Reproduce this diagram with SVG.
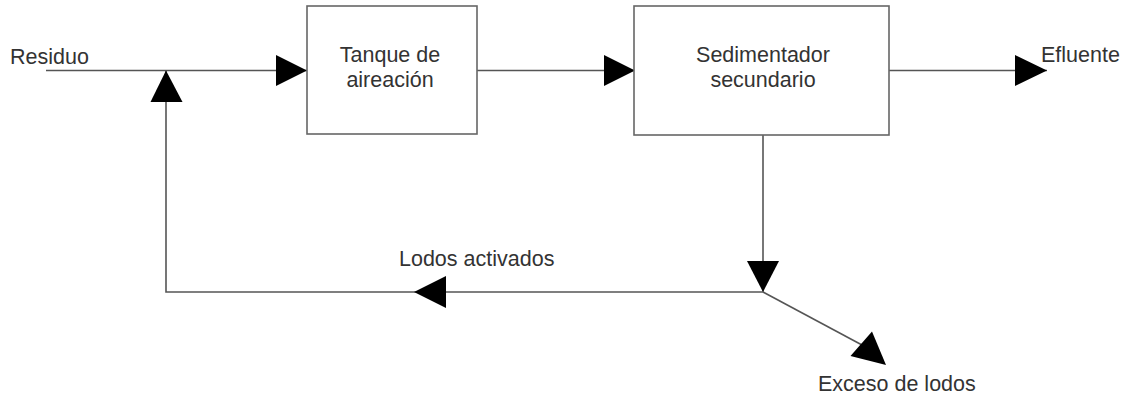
<svg xmlns="http://www.w3.org/2000/svg" width="1131" height="398" viewBox="0 0 1131 398">
<style>
text{font-family:"Liberation Sans",Arial,sans-serif;font-size:21.5px;fill:#333}
.box{fill:#fff;stroke:#666;stroke-width:1.6}
.ln{fill:none;stroke:#555;stroke-width:1.6}
.ah{fill:#000;stroke:none}
</style>
<rect width="1131" height="398" fill="#fff"/>
<g id="connectors">
<path class="ln" d="M46 70.5 H307"/>
<polygon class="ah" points="276,55 307,70.5 276,86"/>
<path class="ln" d="M477 70.5 H634"/>
<polygon class="ah" points="604,55 635,70.5 604,86"/>
<path class="ln" d="M889 70.5 H1047"/>
<polygon class="ah" points="1015,55 1047,70.5 1015,86"/>
<path class="ln" d="M763 135 V292"/>
<polygon class="ah" points="747,261 779,261 763,292"/>
<path class="ln" d="M763 292 H166 V71"/>
<polygon class="ah" points="446,276 446,308 414,292"/>
<polygon class="ah" points="150.5,102 182.5,102 166,70.5"/>
<path class="ln" d="M763 292 L862 345"/>
<polygon class="ah" points="850.5,356 872,331.5 886,365"/>
</g>
<g id="residuo"><text x="10" y="64">Residuo</text></g>
<g id="tanque">
<rect class="box" x="307" y="6" width="170" height="128"/>
<text x="390" y="62" text-anchor="middle">Tanque de</text>
<text x="390" y="87" text-anchor="middle">aireación</text>
</g>
<g id="sedimentador">
<rect class="box" x="634" y="6" width="255" height="129"/>
<text x="763" y="62" text-anchor="middle">Sedimentador</text>
<text x="763" y="87" text-anchor="middle">secundario</text>
</g>
<g id="efluente"><text x="1041" y="62">Efluente</text></g>
<g id="lodos"><text x="399" y="266">Lodos activados</text></g>
<g id="exceso"><text x="818" y="391">Exceso de lodos</text></g>
</svg>
